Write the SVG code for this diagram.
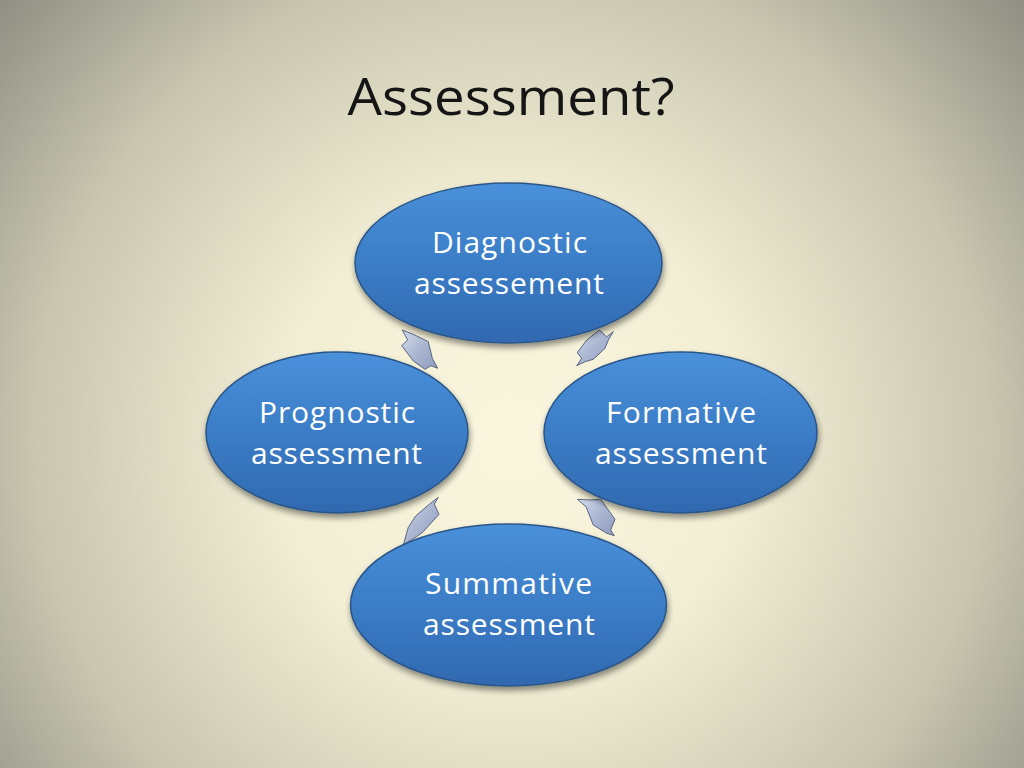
<svg xmlns="http://www.w3.org/2000/svg" width="1024" height="768" viewBox="0 0 1024 768">
<defs>
<radialGradient id="bg" cx="512" cy="440" r="680" gradientUnits="userSpaceOnUse">
<stop offset="0" stop-color="#fbf7df"/>
<stop offset="0.35" stop-color="#f2eed4"/>
<stop offset="0.7" stop-color="#c9c6b1"/>
<stop offset="1" stop-color="#8e8d82"/>
</radialGradient>
<linearGradient id="blob" x1="0" y1="0" x2="0" y2="1">
<stop offset="0" stop-color="#4a90da"/>
<stop offset="0.5" stop-color="#3b7dc7"/>
<stop offset="1" stop-color="#3069b0"/>
</linearGradient>
<linearGradient id="arr" x1="0" y1="0" x2="1" y2="1">
<stop offset="0" stop-color="#d3dbeb"/>
<stop offset="0.5" stop-color="#aab6d2"/>
<stop offset="1" stop-color="#8f9bbd"/>
</linearGradient>
<filter id="sh" x="-20%" y="-20%" width="140%" height="150%">
<feGaussianBlur in="SourceAlpha" stdDeviation="3"/>
<feOffset dx="1" dy="4" result="b"/>
<feComponentTransfer><feFuncA type="linear" slope="0.45"/></feComponentTransfer>
<feMerge><feMergeNode/><feMergeNode in="SourceGraphic"/></feMerge>
</filter>
</defs>
<style>
.node ellipse{fill:url(#blob);stroke:#2b5587;stroke-width:1.5;filter:url(#sh)}
.node text{fill:#ffffff;font-family:"Open Sans","Liberation Sans",sans-serif;font-size:30px;text-anchor:middle}
.title{fill:#151515;font-family:"Open Sans","Liberation Sans",sans-serif;font-size:52px;text-anchor:middle}
.arrow{fill:url(#arr);stroke:#5b6683;stroke-width:1;stroke-linejoin:miter}
</style>
<rect width="1024" height="768" fill="url(#bg)"/>
<text class="title" x="511" y="115" textLength="327" lengthAdjust="spacingAndGlyphs">Assessment?</text>
<g id="connectors">
<polygon class="arrow" points="402.3,330 413.3,334.3 428.3,341.7 432.3,358.3 437.7,368.3 431,365.7 425,369.3 413.3,361 401.7,345.7 407.7,340"/>
<polygon class="arrow" points="599.3,330 606.7,336.7 613.3,331.7 608.3,340 605,348.3 593.3,359.3 585,361.7 576.7,365.7 581.7,358.3 577.3,352.7 586.7,340"/>
<polygon class="arrow" points="577.3,499.3 590,500 600.7,499.3 615,519.3 610.7,530 614.3,535.7 606.7,533.3 593.3,525 586,506.7"/>
<polygon class="arrow" points="438.3,497.3 434.3,504 439,514.3 423.3,531.7 416.7,536.7 403.3,545 408.3,527.3 415.7,516 428.3,505"/>
</g>
<g id="diagnostic" class="node">
<ellipse cx="508.5" cy="263" rx="153.5" ry="80"/>
<text x="509.5" y="253" textLength="155">Diagnostic</text>
<text x="509" y="294" textLength="190">assessement</text>
</g>
<g id="formative" class="node">
<ellipse cx="680.5" cy="432.5" rx="136.5" ry="80.5"/>
<text x="681" y="423" textLength="150">Formative</text>
<text x="681" y="464" textLength="172">assessment</text>
</g>
<g id="summative" class="node">
<ellipse cx="508.5" cy="605" rx="158" ry="81"/>
<text x="508.5" y="594" textLength="167">Summative</text>
<text x="509" y="635" textLength="172">assessment</text>
</g>
<g id="prognostic" class="node">
<ellipse cx="337" cy="432.5" rx="131" ry="80.5"/>
<text x="337" y="423" textLength="156">Prognostic</text>
<text x="336.5" y="464" textLength="171">assessment</text>
</g>
</svg>
